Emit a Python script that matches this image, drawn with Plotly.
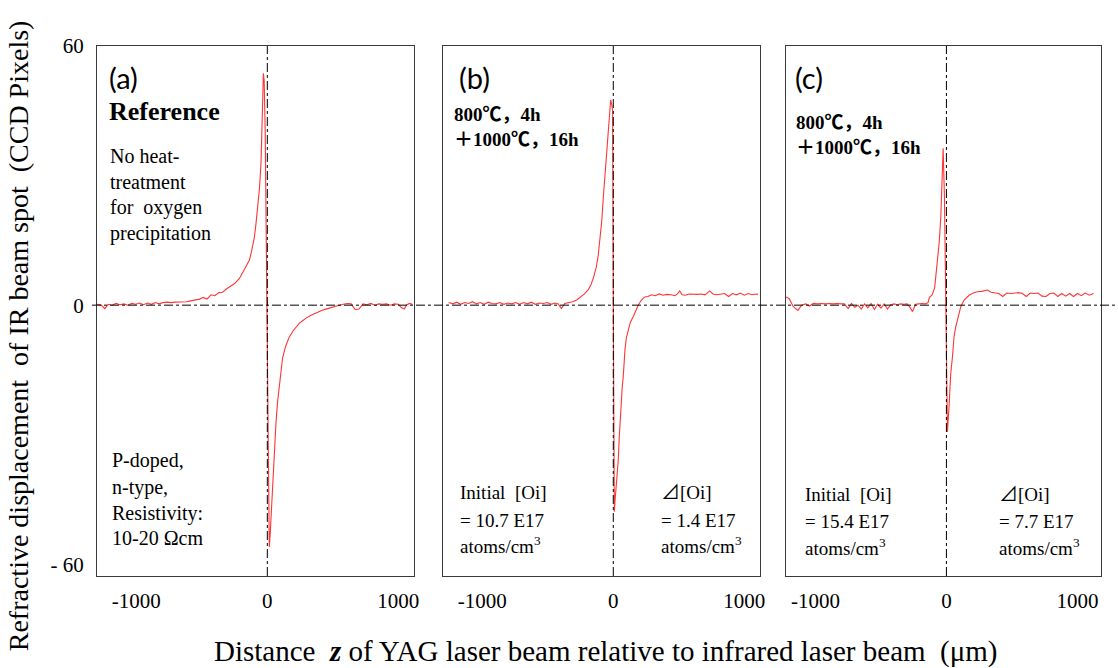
import plotly.graph_objects as go

# ---------------- data ----------------
za = [-1300, -1270, -1240, -1215, -1185, -1155, -1125, -1095, -1065, -1035,
      -1005, -975, -945, -915, -885, -855, -825, -795, -765, -735,
      -705, -675, -645, -615, -585, -555, -517, -490, -460, -430,
      -400, -370, -342, -310, -280, -250, -213, -190, -170, -150,
      -137, -120, -99, -86, -74, -60, -48, -40, -36, -30,
      -24, -16, -8, 0, 8, 15, 22, 30, 40, 52,
      66, 78, 91, 104, 116, 140, 167, 200, 244, 270,
      295, 330, 370, 419, 460, 500, 548, 580, 610, 640,
      670, 700, 730, 760, 790, 820, 850, 880, 910, 940,
      970, 1000, 1025, 1045, 1065, 1085, 1107]
va = [0.2, 0.1, -0.8, 0.2, 0.0, 0.4, 0.1, 0.3, 0.0, 0.4,
      0.2, 0.5, 0.1, 0.5, 0.2, 0.6, 0.3, 0.6, 0.7, 0.6,
      0.7, 0.7, 0.7, 0.8, 1.0, 1.2, 1.4, 1.8, 1.4, 2.4,
      2.2, 2.9, 3.0, 3.8, 4.4, 5.0, 6.2, 7.4, 8.4, 9.5,
      10.4, 12.5, 15.7, 19, 22.7, 27, 32.9, 40, 48, 53.7,
      52, 40, 15, -15, -42, -56, -53, -48, -42.8, -35,
      -27.3, -22.5, -19, -15, -12.3, -9.5, -7.4, -5.8, -4.2, -3.6,
      -3.0, -2.4, -1.8, -1.2, -0.8, -0.4, 0.0, 0.2, 0.4, 0.3,
      -1.0, -0.9, 0.3, 0.1, 0.4, 0.0, 0.3, 0.2, 0.3, 0.0,
      0.3, 0.2, -0.6, -0.9, 0.1, 0.4, 0.2]

zb = [-1256, -1225, -1195, -1165, -1135, -1105, -1075, -1045, -1015, -985,
      -955, -925, -895, -865, -835, -805, -775, -745, -715, -685,
      -655, -625, -595, -565, -535, -505, -475, -445, -420, -396,
      -370, -340, -310, -280, -250, -220, -190, -170, -150, -130,
      -115, -100, -88, -76, -64, -51, -40, -33, -26, -20,
      -12, -5, 0, 5, 8, 14, 20, 25, 32, 38,
      45, 51, 60, 68, 76, 82, 89, 100, 114, 130,
      152, 170, 190, 215, 240, 265, 290, 320, 350, 380,
      410, 440, 470, 490, 507, 525, 550, 580, 610, 640,
      670, 700, 736, 760, 790, 820, 850, 880, 910, 940,
      970, 1000, 1030, 1060, 1090, 1104]
vb = [0.6, 0.3, 0.7, 0.2, 0.6, 0.4, 0.8, 0.3, 0.6, 0.2,
      0.7, 0.4, 0.3, 0.6, 0.2, 0.5, 0.3, 0.6, 0.2, 0.6,
      0.3, 0.7, 0.2, 0.5, 0.4, 0.6, 0.2, 0.5, 0.3, -0.8,
      0.4, 0.6, 0.8, 1.2, 1.8, 2.6, 3.6, 4.8, 6.5, 8.8,
      11.5, 15.5, 19.5, 25, 30, 34.5, 40, 43.5, 46, 47.5,
      46.5, 45, 0, -40, -47.8, -45, -43, -41, -38.5, -35.9,
      -31, -27.3, -22, -19, -16.6, -13, -10.4, -7.5, -5.8, -4,
      -2.7, -1.2, 0, 1.2, 1.9, 2.0, 2.4, 2.2, 2.6, 2.3,
      2.5, 2.4, 2.2, 2.6, 3.3, 2.4, 2.3, 2.6, 2.5, 2.5,
      2.6, 2.4, 3.3, 2.6, 2.4, 2.5, 2.7, 2.0, 2.7, 2.4,
      2.8, 2.3, 2.7, 2.4, 2.6, 2.5]

zc = [-1225, -1200, -1170, -1134, -1105, -1075, -1045, -1015, -985, -955,
      -925, -895, -865, -835, -805, -779, -750, -725, -700, -675,
      -650, -625, -600, -575, -550, -525, -500, -475, -450, -425,
      -400, -375, -350, -325, -300, -280, -259, -235, -210, -185,
      -160, -140, -130, -110, -90, -68, -55, -43, -33, -25,
      -15, -5, 3, 8, 20, 33, 46, 58, 70, 84,
      109, 135, 173, 205, 236, 270, 312, 340, 370, 400,
      430, 460, 490, 520, 550, 580, 610, 640, 670, 700,
      730, 760, 790, 820, 850, 880, 910, 940, 970, 1000,
      1030, 1060, 1090, 1124]
vc = [1.9, 1.5, -0.3, -1.2, 0.0, 0.3, -0.2, 0.4, 0.3, 0.4,
      0.3, 0.4, 0.3, 0.4, 0.3, 0.3, -0.8, 0.4, -0.5, 0.0,
      -0.9, 0.3, -0.6, 0.4, -1.0, 0.2, -0.7, 0.3, -0.9, 0.1,
      0.3, 0.1, 0.3, 0.2, 0.3, -0.4, -1.5, 0.2, 0.3, 0.4,
      0.3, 0.6, 1.8, 2.3, 4.0, 9.7, 14.5, 20.4, 28, 36.3,
      25, 0, -20, -29.3, -23.5, -15.8, -12, -7.3, -5.2, -3.5,
      -0.4, 1.2, 2.3, 2.8, 3.1, 3.2, 3.5, 3.0, 2.9, 2.7,
      2.0, 2.8, 2.7, 2.8, 2.9, 2.7, 2.0, 2.8, 2.7, 2.8,
      2.1, 2.0, 2.7, 2.8, 2.0, 2.7, 2.1, 2.7, 2.0, 2.7,
      2.2, 2.8, 2.3, 2.7]

x_tickvals = [-1000, 0, 1000]
x_ticktext = ["-1000", "0", "1000"]
y_tickvals = [-60, 0, 60]
y_ticktext = ["- 60", "0", "60"]

# ---------------- layout helpers ----------------
W, H = 1118, 668
ML, MR, MT, MB = 97, 14, 46, 92
PW, PH = W - ML - MR, H - MT - MB


def px(x):
    return (x - ML) / PW


def py(y):
    return 1 - (y - MT) / PH


SERIF = "Liberation Serif, Times New Roman, Noto Sans CJK SC, serif"
CJK_SERIF = "Liberation Serif, Noto Sans CJK SC, serif"
RED = "#ff3535"

fig = go.Figure()
for i, (z, v) in enumerate([(za, va), (zb, vb), (zc, vc)]):
    sfx = "" if i == 0 else str(i + 1)
    fig.add_trace(go.Scatter(x=z, y=v, mode="lines",
                             line=dict(color=RED, width=1.1),
                             xaxis="x" + sfx, yaxis="y" + sfx,
                             showlegend=False, hoverinfo="skip"))

domains = [(0, px(415)), (px(444), px(762)), (px(788), 1.0)]
xranges = [[-1300, 1120], [-1300, 1120], [-1225, 1180]]
yr = [-62.7, 60]

axis_common = dict(showline=True, mirror=True, linecolor="#3a3a3a", linewidth=1.3,
                   showgrid=False, zeroline=False, ticks="")
layout = dict(width=W, height=H, margin=dict(l=ML, r=MR, t=MT, b=MB),
              paper_bgcolor="white", plot_bgcolor="white", showlegend=False)
for i in range(3):
    sfx = "" if i == 0 else str(i + 1)
    layout["xaxis" + sfx] = dict(axis_common, domain=list(domains[i]), range=xranges[i],
                                 tickvals=x_tickvals, ticktext=x_ticktext,
                                 tickfont=dict(family=SERIF, size=21, color="black"),
                                 ticklabelstandoff=6,
                                 anchor="y" + sfx)
    layout["yaxis" + sfx] = dict(axis_common, domain=[0, 1], range=yr,
                                 tickvals=y_tickvals, ticktext=y_ticktext,
                                 showticklabels=(i == 0),
                                 tickfont=dict(family=SERIF, size=21, color="black"),
                                 ticklabelstandoff=8,
                                 anchor="x" + sfx)
fig.update_layout(**layout)

# dash-dot reference lines
fig.add_shape(type="line", xref="paper", yref="y", x0=px(92), x1=px(1118), y0=0, y1=0,
              line=dict(color="black", width=1, dash="dashdot"))
for sfx in ["", "2", "3"]:
    fig.add_shape(type="line", xref="x" + sfx, yref="y" + sfx + " domain" if sfx else "y domain",
                  x0=0, x1=0, y0=0, y1=1,
                  line=dict(color="black", width=1, dash="dashdot"))


def txt(s, x, y, size=20, family=SERIF, anchor="left", **kw):
    fig.add_annotation(text=s, xref="paper", yref="paper", x=px(x), y=py(y),
                       xanchor=anchor, yanchor="middle", showarrow=False,
                       font=dict(family=family, size=size, color="black"), **kw)


NB = "\u00a0"
LABEL_FONT = "Lato, Open Sans, sans-serif"
# panel (a)
txt("(a)", 107, 77, size=29, family=LABEL_FONT)
txt("<b>Reference</b>", 107, 112, size=26)
for s, y in [("No heat-", 156), ("treatment", 182), ("for" + NB + " oxygen", 208), ("precipitation", 233)]:
    txt(s, 108, y, size=20)
for s, y in [("P-doped,", 460), ("n-type,", 487), ("Resistivity:", 513), ("10-20 Ωcm", 538)]:
    txt(s, 110, y, size=20)

# panel (b)
txt("(b)", 458, 77, size=29, family=LABEL_FONT)
txt("<b>800℃，4h</b>", 453, 115, size=19, family=CJK_SERIF)
txt("<b>＋1000℃，16h</b>", 453, 139, size=19, family=CJK_SERIF)
for s, y in [("Initial" + NB + " [Oi]", 492), ("= 10.7 E17", 520), ("atoms/cm<sup>3</sup>", 545)]:
    txt(s, 459, y, size=19)
for s, y in [("⊿[Oi]", 492), ("= 1.4 E17", 520), ("atoms/cm<sup>3</sup>", 545)]:
    txt(s, 661, y, size=19)

# panel (c)
txt("(c)", 795, 77, size=29, family=LABEL_FONT)
txt("<b>800℃，4h</b>", 796, 123, size=19, family=CJK_SERIF)
txt("<b>＋1000℃，16h</b>", 796, 148, size=19, family=CJK_SERIF)
for s, y in [("Initial" + NB + " [Oi]", 494), ("= 15.4 E17", 521), ("atoms/cm<sup>3</sup>", 547)]:
    txt(s, 805, y, size=19)
for s, y in [("⊿[Oi]", 494), ("= 7.7 E17", 521), ("atoms/cm<sup>3</sup>", 547)]:
    txt(s, 1000, y, size=19)

# axis titles
txt("Refractive displacement" + NB + " of IR beam spot" + NB + " (CCD Pixels)",
    18, 336, size=28, anchor="center", textangle=-90)
txt("Distance" + NB + " <b><i>z</i></b> of YAG laser beam relative to infrared laser beam" + NB + " (μm)",
    608, 651, size=29, anchor="center")

fig.write_html("out.html", config={"displayModeBar": False})

# remove the default page margin so the figure sits at the window's top-left corner
with open("out.html", encoding="utf-8") as f:
    html = f.read()
html = html.replace("<head>", "<head><style>html,body{margin:0;padding:0;overflow:hidden;}</style>", 1)
with open("out.html", "w", encoding="utf-8") as f:
    f.write(html)
